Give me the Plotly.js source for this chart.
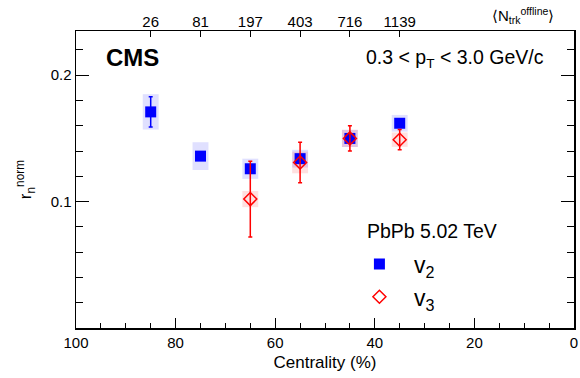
<!DOCTYPE html>
<html>
<head>
<meta charset="utf-8">
<script src="https://cdn.plot.ly/plotly-3.0.1.min.js"></script>
<style>html,body{margin:0;padding:0;background:#fff;}#chart{width:580px;height:378px;}</style>
</head>
<body>
<div id="chart"></div>
<script>
// ---- data ----
var centV2 = [85, 75, 65, 55, 45, 35];
var v2 = [0.171, 0.136, 0.126, 0.134, 0.150, 0.162];
var v2Stat = [0.012, 0.003, 0.003, 0.003, 0.003, 0.003];
var v2Sys = [0.014, 0.011, 0.008, 0.007, 0.0068, 0.0066];

var centV3 = [65, 55, 45, 35];
var v3 = [0.102, 0.131, 0.150, 0.149];
var v3Stat = [0.030, 0.016, 0.010, 0.008];
var v3Sys = [0.0064, 0.0086, 0.0068, 0.0057];

var nTrkCent = [85, 75, 65, 55, 45, 35];
var nTrkLabels = ['26', '81', '197', '403', '716', '1139'];

var xTickVals = [100, 80, 60, 40, 20, 0];
var yTickVals = [0.1, 0.2];
var yTickText = ['0.1', '0.2'];

var FONT = 'Liberation Sans, Arial, Helvetica, sans-serif';
var boxHalfWidth = 1.6;

function base(vals, sys) { return vals.map(function (v, i) { return v - sys[i]; }); }
function twice(sys) { return sys.map(function (s) { return 2 * s; }); }

var traces = [
  {
    type: 'bar', x: centV2, y: twice(v2Sys), base: base(v2, v2Sys),
    width: centV2.map(function () { return 2 * boxHalfWidth; }),
    marker: {color: 'rgba(0,0,255,0.12)', line: {width: 0}},
    showlegend: false, hoverinfo: 'skip'
  },
  {
    type: 'bar', x: centV3, y: twice(v3Sys), base: base(v3, v3Sys),
    width: centV3.map(function () { return 2 * boxHalfWidth; }),
    marker: {color: 'rgba(255,0,0,0.12)', line: {width: 0}},
    showlegend: false, hoverinfo: 'skip'
  },
  {
    type: 'scatter', mode: 'markers', name: 'v<sub>2</sub>',
    x: centV2, y: v2,
    marker: {symbol: 'square', size: 11, color: '#0000ff'},
    error_y: {type: 'data', array: v2Stat, visible: true, color: '#0000ff', thickness: 1.5, width: 2}
  },
  {
    type: 'scatter', mode: 'markers', name: 'v<sub>3</sub>',
    x: centV3, y: v3,
    marker: {symbol: 'diamond-open', size: 10, color: '#ff0000', line: {width: 1.5, color: '#ff0000'}},
    error_y: {type: 'data', array: v3Stat, visible: true, color: '#ff0000', thickness: 1.5, width: 2}
  },
  {
    type: 'scatter', mode: 'markers', x: nTrkCent, y: v2, xaxis: 'x2',
    marker: {opacity: 0, size: 1}, showlegend: false, hoverinfo: 'skip'
  }
];

var layout = {
  width: 580, height: 378,
  margin: {l: 76, r: 6, t: 31, b: 50, pad: 0},
  paper_bgcolor: '#fff', plot_bgcolor: '#fff',
  font: {family: FONT, size: 15, color: '#000'},
  barmode: 'overlay',
  showlegend: true,
  legend: {
    x: 0.540, xanchor: 'left', y: 0.288, yanchor: 'top',
    itemwidth: 59, font: {family: FONT, size: 23, color: '#000'},
    bgcolor: 'rgba(0,0,0,0)', tracegroupgap: 0
  },
  xaxis: {
    range: [100, 0], autorange: false,
    tickmode: 'array', tickvals: xTickVals,
    ticks: 'inside', ticklen: 10, tickwidth: 1, tickcolor: '#000',
    minor: {tickmode: 'linear', tick0: 0, dtick: 5, ticks: 'inside', ticklen: 5, tickwidth: 1, tickcolor: '#000', showgrid: false},
    showline: true, linecolor: '#000', linewidth: 1.5, mirror: true,
    showgrid: false, zeroline: false,
    tickfont: {size: 15},
    title: {text: 'Centrality (%)', font: {size: 17}, standoff: 6}
  },
  xaxis2: {
    overlaying: 'x', side: 'top', anchor: 'y',
    range: [100, 0], autorange: false,
    tickmode: 'array', tickvals: nTrkCent, ticktext: nTrkLabels,
    ticks: 'inside', ticklen: 6, tickwidth: 1, tickcolor: '#000',
    showline: false, showgrid: false, zeroline: false,
    tickfont: {size: 15}
  },
  yaxis: {
    range: [0, 0.235], autorange: false,
    tickmode: 'array', tickvals: yTickVals, ticktext: yTickText,
    ticks: 'inside', ticklen: 13, tickwidth: 1, tickcolor: '#000',
    minor: {tickmode: 'linear', tick0: 0, dtick: 0.02, ticks: 'inside', ticklen: 7, tickwidth: 1, tickcolor: '#000', showgrid: false},
    showline: true, linecolor: '#000', linewidth: 1.5, mirror: 'ticks',
    showgrid: false, zeroline: false,
    tickfont: {size: 15},
    title: {text: 'r<sub>n</sub><sup>norm</sup>', font: {size: 17}, standoff: 14}
  },
  annotations: [
    {xref: 'paper', yref: 'paper', x: (104 - 76) / 498, y: (328 - 57) / 297, xanchor: 'left', yanchor: 'middle',
     text: '<b>CMS</b>', showarrow: false, font: {family: FONT, size: 24, color: '#000'}},
    {xref: 'paper', yref: 'paper', x: (546 - 76) / 498, y: (328 - 58) / 297, xanchor: 'right', yanchor: 'middle',
     text: '0.3 < p<sub>T</sub> < 3.0 GeV/c', showarrow: false, font: {family: FONT, size: 19.5, color: '#000'}},
    {xref: 'paper', yref: 'paper', x: (365 - 76) / 498, y: (328 - 231) / 297, xanchor: 'left', yanchor: 'middle',
     text: 'PbPb 5.02 TeV', showarrow: false, font: {family: FONT, size: 19.5, color: '#000'}},
    {xref: 'paper', yref: 'paper', x: (523 - 76) / 498, y: (328 - 16) / 297, xanchor: 'center', yanchor: 'middle',
     text: '\u27E8N<sub>trk</sub><sup>offline</sup>\u27E9', showarrow: false, font: {family: FONT, size: 15, color: '#000'}}
  ]
};

Plotly.newPlot('chart', traces, layout, {displayModeBar: false, staticPlot: true});
</script>
</body>
</html>
